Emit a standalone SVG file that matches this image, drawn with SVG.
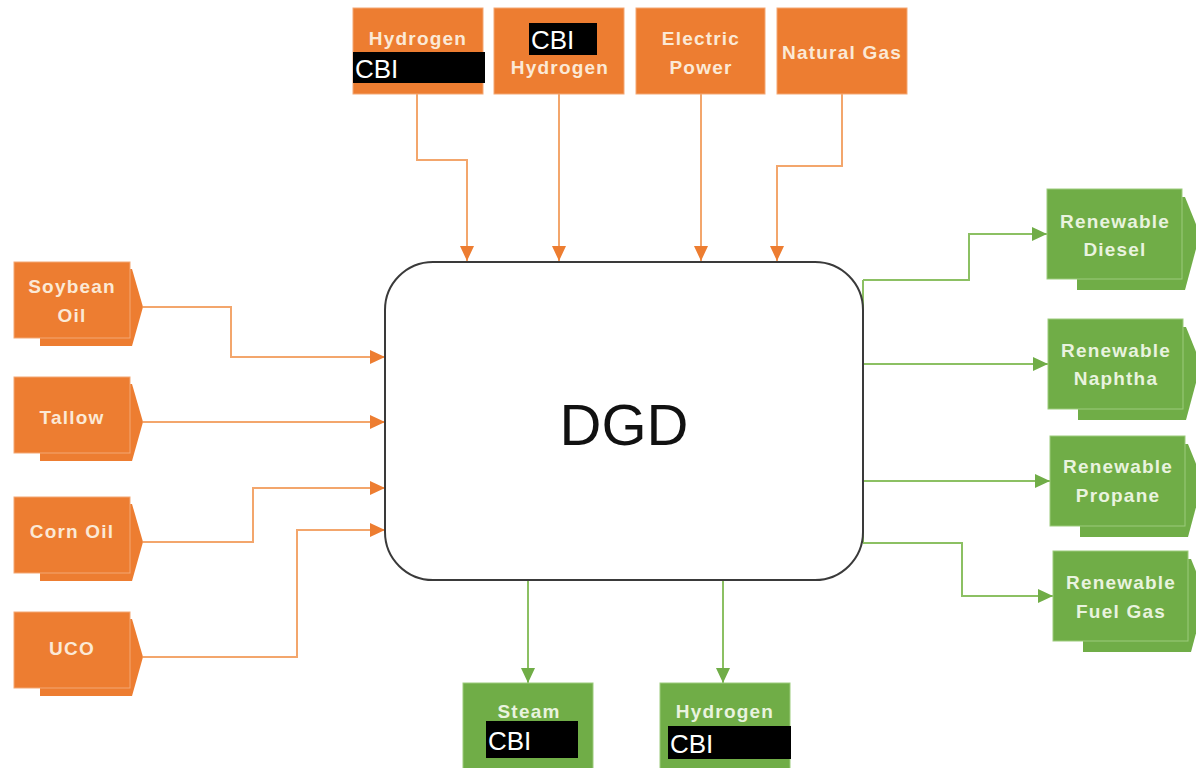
<svg xmlns="http://www.w3.org/2000/svg" width="1196" height="768" viewBox="0 0 1196 768">
<defs>
<style>
.or{fill:#ED7D31}
.orf{fill:#ED7D31;stroke:#F3A874;stroke-width:1}
.gr{fill:#70AD47}
.grf{fill:#70AD47;stroke:#9CCB7C;stroke-width:1}
.to{font-family:"Liberation Sans",Arial,sans-serif;font-weight:bold;font-size:19px;letter-spacing:1.2px;fill:#FBE9D6;text-anchor:middle}
.tg{font-family:"Liberation Sans",Arial,sans-serif;font-weight:bold;font-size:19px;letter-spacing:1.2px;fill:#E9F3DF;text-anchor:middle}
.cbi{font-family:"Liberation Sans",Arial,sans-serif;font-size:26px;fill:#FFFFFF}
.co{fill:none;stroke:#F3A66C;stroke-width:2}
.cg{fill:none;stroke:#8CC063;stroke-width:2}
</style>
<marker id="ao" markerUnits="userSpaceOnUse" markerWidth="15" markerHeight="14" refX="15" refY="7" orient="auto">
<path d="M0,0 L15,7 L0,14 Z" fill="#ED7D31"/>
</marker>
<marker id="ag" markerUnits="userSpaceOnUse" markerWidth="15" markerHeight="14" refX="15" refY="7" orient="auto">
<path d="M0,0 L15,7 L0,14 Z" fill="#70AD47"/>
</marker>
</defs>
<rect width="1196" height="768" fill="#FFFFFF"/>

<g id="connectors">
<path class="co" d="M417,94 V160 H467 V261" marker-end="url(#ao)"/>
<path class="co" d="M559,94 V261" marker-end="url(#ao)"/>
<path class="co" d="M701,94 V261" marker-end="url(#ao)"/>
<path class="co" d="M842,94 V166 H777 V261" marker-end="url(#ao)"/>
<path class="co" d="M143,307 H231 V357 H385" marker-end="url(#ao)"/>
<path class="co" d="M143,422 H385" marker-end="url(#ao)"/>
<path class="co" d="M143,542 H253 V488 H385" marker-end="url(#ao)"/>
<path class="co" d="M143,657 H297 V530 H385" marker-end="url(#ao)"/>
<path class="cg" d="M863,280 V543"/>
<path class="cg" d="M863,280 H969 V234 H1047" marker-end="url(#ag)"/>
<path class="cg" d="M863,364 H1048" marker-end="url(#ag)"/>
<path class="cg" d="M863,481 H1050" marker-end="url(#ag)"/>
<path class="cg" d="M863,543 H962 V596 H1053" marker-end="url(#ag)"/>
<path class="cg" d="M528,581 V683" marker-end="url(#ag)"/>
<path class="cg" d="M723,581 V683" marker-end="url(#ag)"/>
</g>

<g id="dgd">
<rect x="385" y="262" width="478" height="318" rx="48" ry="48" fill="#FFFFFF" stroke="#3A3A3A" stroke-width="2"/>
<text x="624" y="445" font-family="Liberation Sans,Arial,sans-serif" font-size="58" fill="#111111" text-anchor="middle">DGD</text>
</g>

<g id="top-hydrogen-cbi">
<rect class="orf" x="353" y="8" width="130" height="86"/>
<text class="to" x="418" y="45">Hydrogen</text>
<rect x="353" y="52" width="132" height="31" fill="#000000"/>
<text class="cbi" x="355" y="78">CBI</text>
</g>
<g id="top-cbi-hydrogen">
<rect class="orf" x="494" y="8" width="130" height="86"/>
<rect x="529" y="23" width="68" height="32" fill="#000000"/>
<text class="cbi" x="531" y="49">CBI</text>
<text class="to" x="560" y="74">Hydrogen</text>
</g>
<g id="top-electric">
<rect class="orf" x="636" y="8" width="129" height="86"/>
<text class="to" x="701" y="45">Electric</text>
<text class="to" x="701" y="74">Power</text>
</g>
<g id="top-natgas">
<rect class="orf" x="777" y="8" width="130" height="86"/>
<text class="to" x="842" y="59">Natural Gas</text>
</g>

<g id="in-soybean">
<polygon class="or" points="40,269 132,269 143,307 132,346 40,346"/>
<rect class="orf" x="14" y="262" width="116" height="76"/>
<text class="to" x="72" y="293">Soybean</text>
<text class="to" x="72" y="322">Oil</text>
</g>
<g id="in-tallow">
<polygon class="or" points="40,384 132,384 143,422 132,461 40,461"/>
<rect class="orf" x="14" y="377" width="116" height="76"/>
<text class="to" x="72" y="424">Tallow</text>
</g>
<g id="in-corn">
<polygon class="or" points="40,504 132,504 143,542 132,581 40,581"/>
<rect class="orf" x="14" y="497" width="116" height="76"/>
<text class="to" x="72" y="538">Corn Oil</text>
</g>
<g id="in-uco">
<polygon class="or" points="40,619 132,619 143,657 132,696 40,696"/>
<rect class="orf" x="14" y="612" width="116" height="76"/>
<text class="to" x="72" y="655">UCO</text>
</g>

<g id="out-diesel">
<polygon class="gr" points="1077,197 1185,197 1200,234 1185,290 1077,290"/>
<rect class="grf" x="1047" y="189" width="135" height="90"/>
<text class="tg" x="1115" y="228">Renewable</text>
<text class="tg" x="1115" y="256">Diesel</text>
</g>
<g id="out-naphtha">
<polygon class="gr" points="1078,327 1186,327 1201,364 1186,420 1078,420"/>
<rect class="grf" x="1048" y="319" width="135" height="90"/>
<text class="tg" x="1116" y="357">Renewable</text>
<text class="tg" x="1116" y="385">Naphtha</text>
</g>
<g id="out-propane">
<polygon class="gr" points="1080,444 1188,444 1203,481 1188,537 1080,537"/>
<rect class="grf" x="1050" y="436" width="135" height="90"/>
<text class="tg" x="1118" y="473">Renewable</text>
<text class="tg" x="1118" y="502">Propane</text>
</g>
<g id="out-fuelgas">
<polygon class="gr" points="1083,559 1191,559 1206,596 1191,652 1083,652"/>
<rect class="grf" x="1053" y="551" width="135" height="90"/>
<text class="tg" x="1121" y="589">Renewable</text>
<text class="tg" x="1121" y="618">Fuel Gas</text>
</g>

<g id="out-steam">
<rect class="grf" x="463" y="683" width="130" height="95"/>
<text class="tg" x="529" y="718">Steam</text>
<rect x="486" y="721" width="92" height="37" fill="#000000"/>
<text class="cbi" x="488" y="750">CBI</text>
</g>
<g id="out-hydrogen">
<rect class="grf" x="660" y="683" width="130" height="95"/>
<text class="tg" x="725" y="718">Hydrogen</text>
<rect x="668" y="726" width="123" height="33" fill="#000000"/>
<text class="cbi" x="670" y="753">CBI</text>
</g>
</svg>
